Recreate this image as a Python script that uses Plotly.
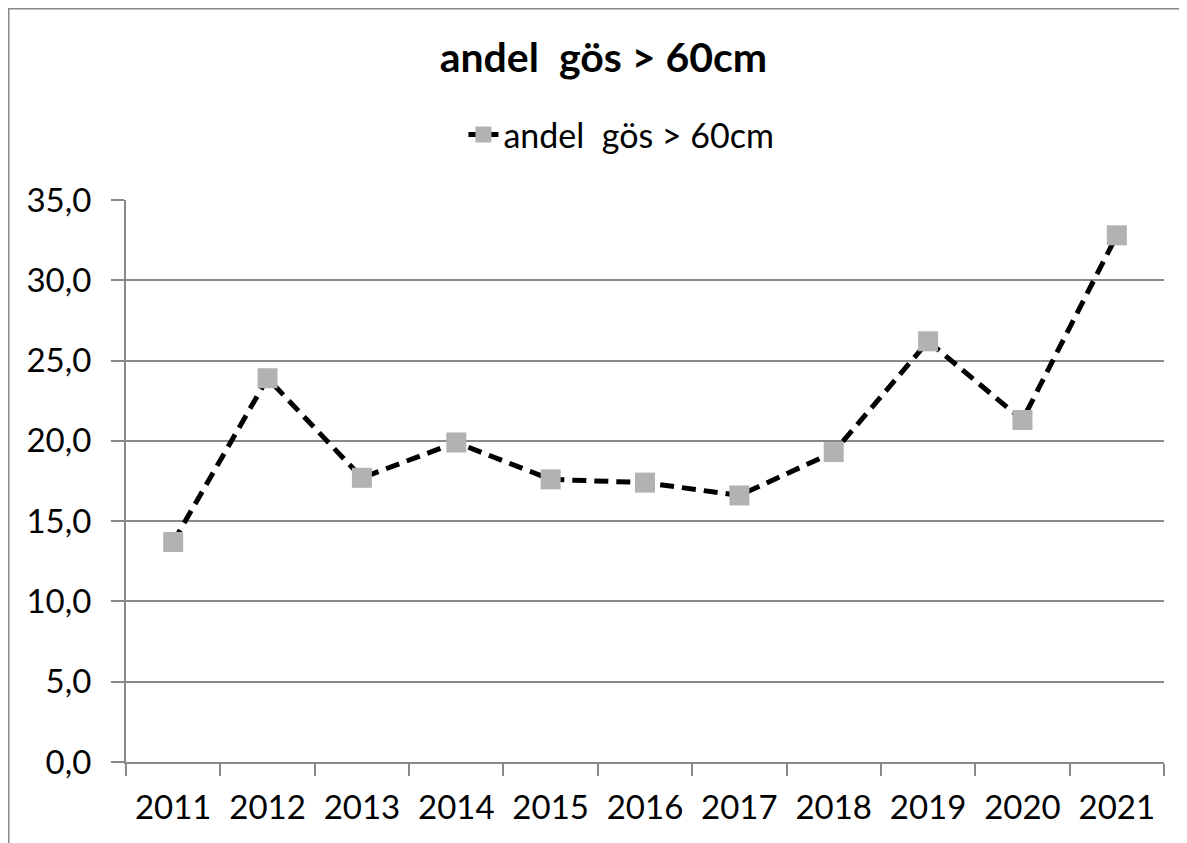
import plotly.graph_objects as go

years = ["2011", "2012", "2013", "2014", "2015", "2016", "2017", "2018", "2019", "2020", "2021"]
share = [13.7, 23.9, 17.7, 19.9, 17.6, 17.4, 16.6, 19.3, 26.2, 21.3, 32.8]
y_ticks = [0, 5, 10, 15, 20, 25, 30, 35]
y_tick_labels = ["0,0", "5,0", "10,0", "15,0", "20,0", "25,0", "30,0", "35,0"]
series_name = "andel\u00a0 gös > 60cm"

fig = go.Figure()
fig.add_trace(go.Scatter(
    x=years, y=share, mode="lines+markers", name=series_name,
    line=dict(color="black", width=5, dash="14px,8px"),
    marker=dict(symbol="square", size=20, color="#b2b2b2", line=dict(width=0)),
))

# page has an 8px body margin, so the figure is laid out 8px smaller/shifted
fig.update_layout(
    width=1179, height=835,
    margin=dict(l=118, r=23, t=192, b=81),
    paper_bgcolor="white", plot_bgcolor="white",
    font=dict(family="Lato, Open Sans, sans-serif", color="black"),
    title=dict(text="<b>" + series_name + "</b>", x=0.505, xanchor="center",
               y=1 - 50 / 835, yanchor="middle", font=dict(size=41, color="black")),
    showlegend=True,
    legend=dict(orientation="h", x=0.4773, xanchor="center", y=(754 - 127) / 562, yanchor="middle",
                font=dict(size=34, color="black"), bgcolor="rgba(0,0,0,0)"),
    xaxis=dict(type="category", showgrid=False, showline=True, linecolor="#898989", linewidth=2,
               ticks="outside", tickson="boundaries", ticklen=12, tickcolor="#898989", tickwidth=2,
               tickfont=dict(size=33), range=[-0.5, 10.5], ticklabelstandoff=15),
    yaxis=dict(range=[0, 35], tickvals=y_ticks, ticktext=y_tick_labels, showgrid=True,
               gridcolor="#898989", gridwidth=2, showline=True, linecolor="#898989", linewidth=2,
               ticks="outside", ticklen=13, tickcolor="#898989", tickwidth=2,
               tickfont=dict(size=33), zeroline=False, ticklabelstandoff=13),
    shapes=[dict(type="rect", xref="paper", yref="paper", x0=-0.1132, x1=1.1, y0=-0.3, y1=1.3407,
                 line=dict(color="#898989", width=2), fillcolor="rgba(0,0,0,0)", layer="below")],
)

fig.write_html("out.html")
